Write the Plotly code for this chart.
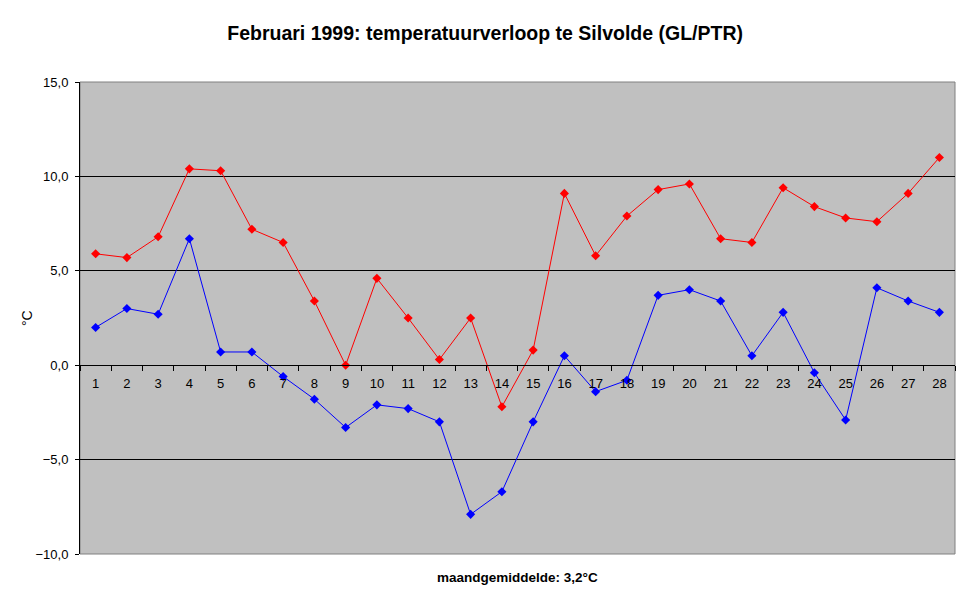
import plotly.graph_objects as go

# Februari 1999, Silvolde: daily max / min temperature (degrees C)
days = [str(d) for d in range(1, 29)]
tmax = [5.9, 5.7, 6.8, 10.4, 10.3, 7.2, 6.5, 3.4, 0.0, 4.6, 2.5, 0.3, 2.5, -2.2,
        0.8, 9.1, 5.8, 7.9, 9.3, 9.6, 6.7, 6.5, 9.4, 8.4, 7.8, 7.6, 9.1, 11.0]
tmin = [2.0, 3.0, 2.7, 6.7, 0.7, 0.7, -0.6, -1.8, -3.3, -2.1, -2.3, -3.0, -7.9, -6.7,
        -3.0, 0.5, -1.4, -0.8, 3.7, 4.0, 3.4, 0.5, 2.8, -0.4, -2.9, 4.1, 3.4, 2.8]
y_ticks = [-10, -5, 0, 5, 10, 15]

font = "Liberation Sans, Arial, sans-serif"

# page body has an 8px margin, so the figure is a bit smaller than the window
W, H = 962, 596

fig = go.Figure()
fig.add_trace(go.Scatter(x=days, y=tmax, mode="lines+markers", name="max",
                         line=dict(color="#FF0000", width=1),
                         marker=dict(symbol="diamond", size=7, color="#FF0000")))
fig.add_trace(go.Scatter(x=days, y=tmin, mode="lines+markers", name="min",
                         line=dict(color="#0000FF", width=1),
                         marker=dict(symbol="diamond", size=7, color="#0000FF")))

fig.update_layout(
    width=W, height=H,
    margin=dict(l=72, r=15, t=74, b=50),
    paper_bgcolor="white", plot_bgcolor="#C0C0C0",
    showlegend=False,
    separators=",.",
    font=dict(family=font, size=13, color="black"),
    title=dict(text="<b>Februari 1999: temperatuurverloop te Silvolde (GL/PTR)</b>",
               x=0.463, xref="paper", xanchor="center", y=1 - 25 / H, yanchor="middle",
               font=dict(family=font, size=19.5, color="black")),
    xaxis=dict(type="category", range=[-0.5, 27.5], anchor="free", position=0.4,
               showline=True, linecolor="black", linewidth=1,
               ticks="outside", ticklen=5, tickcolor="black", tickson="boundaries",
               ticklabelstandoff=6, showgrid=False, zeroline=False, automargin=False),
    yaxis=dict(range=[-10, 15], tickvals=y_ticks, tickformat=".1f",
               showline=True, linecolor="black", linewidth=1,
               ticks="outside", ticklen=4, tickcolor="black", ticklabelstandoff=4,
               showgrid=True, gridcolor="black", gridwidth=1, zeroline=False,
               automargin=False),
    shapes=[dict(type="rect", xref="x domain", yref="y domain", x0=0, x1=1, y0=0, y1=1,
                 line=dict(color="#808080", width=1), layer="below")],
    annotations=[
        dict(text="°C", xref="paper", yref="paper", x=-0.0606, y=0.5, textangle=-90,
             showarrow=False, xanchor="center", yanchor="middle",
             font=dict(family=font, size=14, color="black")),
        dict(text="<b>maandgemiddelde: 3,2°C</b>", xref="paper", yref="paper",
             x=0.5, y=-0.05, showarrow=False, xanchor="center", yanchor="middle",
             font=dict(family=font, size=13.5, color="black")),
    ],
)

fig.write_html("out.html")
